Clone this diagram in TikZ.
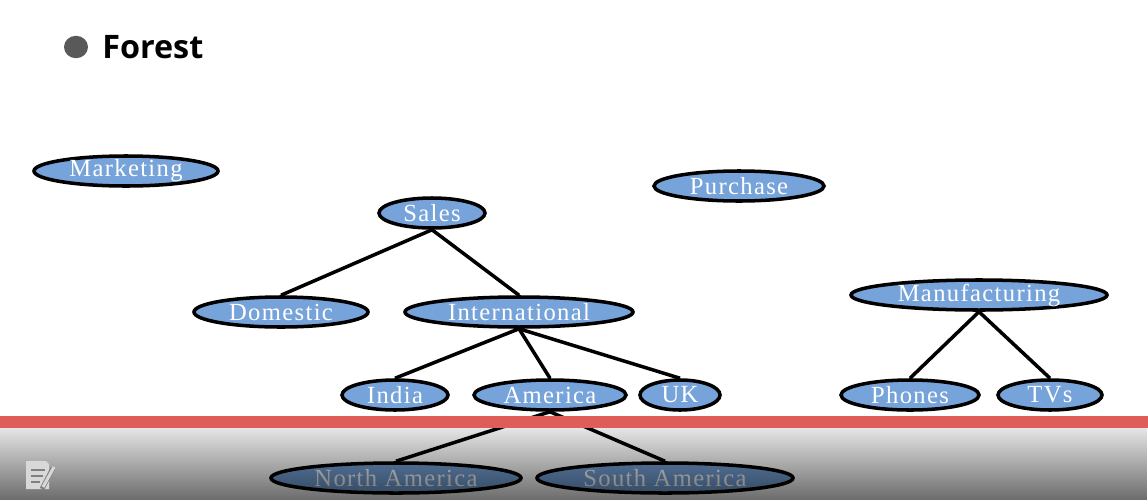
\documentclass[tikz,border=0pt]{standalone}
\usepackage{fontspec}
\usepackage{tikz}
\usetikzlibrary{positioning, shapes.geometric, fadings}
\newfontfamily\titlefont{Open Sans}
\newfontfamily\labelfont[LetterSpace=5.5]{Liberation Serif}
\definecolor{nodeblue}{HTML}{76A3D9}
\definecolor{barred}{HTML}{DE5D58}
\definecolor{bulletgray}{HTML}{595959}
\definecolor{icongray}{HTML}{D8D8D8}
\tikzfading[name=bandfade, top color=transparent!90, bottom color=transparent!42]

\begin{document}
\begin{tikzpicture}[
    x=0.025cm, y=-0.025cm,
    every node/.style={font=\labelfont\fontsize{17.5}{20}\selectfont},
    topic/.style={ellipse, draw=black, line width=2.5pt, fill=nodeblue, text=white,
      inner ysep=-4pt, inner xsep=-6pt, minimum height=0.75cm},
    link/.style={line width=2.5pt, black},
  ]
  \useasboundingbox (0,0) rectangle (1148,500);

  % -- Title ----------------------------------------------------------------
  \node[ellipse, fill=bulletgray, minimum width=0.6cm, minimum height=0.56cm, inner sep=0pt] (bullet) at (76,47) {};
  \node[anchor=west, inner sep=0pt, font=\titlefont\bfseries\fontsize{23}{26}\selectfont] (title) at (102,47) {Forest};

  % -- Nodes ----------------------------------------------------------------

  % Roots
  \node[topic, minimum width=4.6cm]   (Marketing) at (126,171) {Marketing};
  \node[topic, minimum width=2.65cm]  (Sales)     at (432,213) {Sales};
  \node[topic, minimum width=4.25cm]  (Purchase)  at (739,186) {Purchase};
  \node[topic, minimum width=6.4cm]   (Manuf)     at (979,295) {Manufacturing};

  % Level 1
  \node[topic, minimum width=4.35cm]  (Domestic)  at (281,312) {Domestic};
  \node[topic, minimum width=5.7cm]   (Intl)      at (519,312) {International};

  % Level 2
  \node[topic, minimum width=2.65cm]  (India)     at (395,395) {India};
  \node[topic, minimum width=3.8cm]   (America)   at (550,395) {America};
  \node[topic, minimum width=2cm]     (UK)        at (680,395) {UK};
  \node[topic, minimum width=3.45cm]  (Phones)    at (910,395) {Phones};
  \node[topic, minimum width=2.6cm]   (TVs)       at (1050,395) {TVs};

  % Level 3
  \node[topic, minimum width=6.25cm]  (NAmerica)  at (396,478) {North America};
  \node[topic, minimum width=6.4cm]   (SAmerica)  at (665,478) {South America};

  % -- Edges ----------------------------------------------------------------
  \draw[link] (Sales.south)   -- (Domestic.north);
  \draw[link] (Sales.south)   -- (Intl.north);
  \draw[link] (Intl.south)    -- (India.north);
  \draw[link] (Intl.south)    -- (America.north);
  \draw[link] (Intl.south)    -- (UK.north);
  \draw[link] (America.south) -- (NAmerica.north);
  \draw[link] (America.south) -- (SAmerica.north);
  \draw[link] (Manuf.south)   -- (Phones.north);
  \draw[link] (Manuf.south)   -- (TVs.north);

  % -- Bottom band ----------------------------------------------------------
  \fill[black, path fading=bandfade] (0,428) rectangle (1148,500);
  \fill[barred] (0,416) rectangle (1148,428);

  % Note icon
  \fill[icongray] (26,461) -- (46,461) -- (49,464) -- (49,489) -- (26,489) -- cycle;
  \draw[gray, line width=1.3pt] (31,470) -- (45,470) (31,476) -- (43,476) (31,482) -- (40,482);
  \draw[gray, line width=3.4pt] (42,489) -- (53,468);
  \draw[icongray, line width=2.2pt] (43,487) -- (54,467);
\end{tikzpicture}
\end{document}
